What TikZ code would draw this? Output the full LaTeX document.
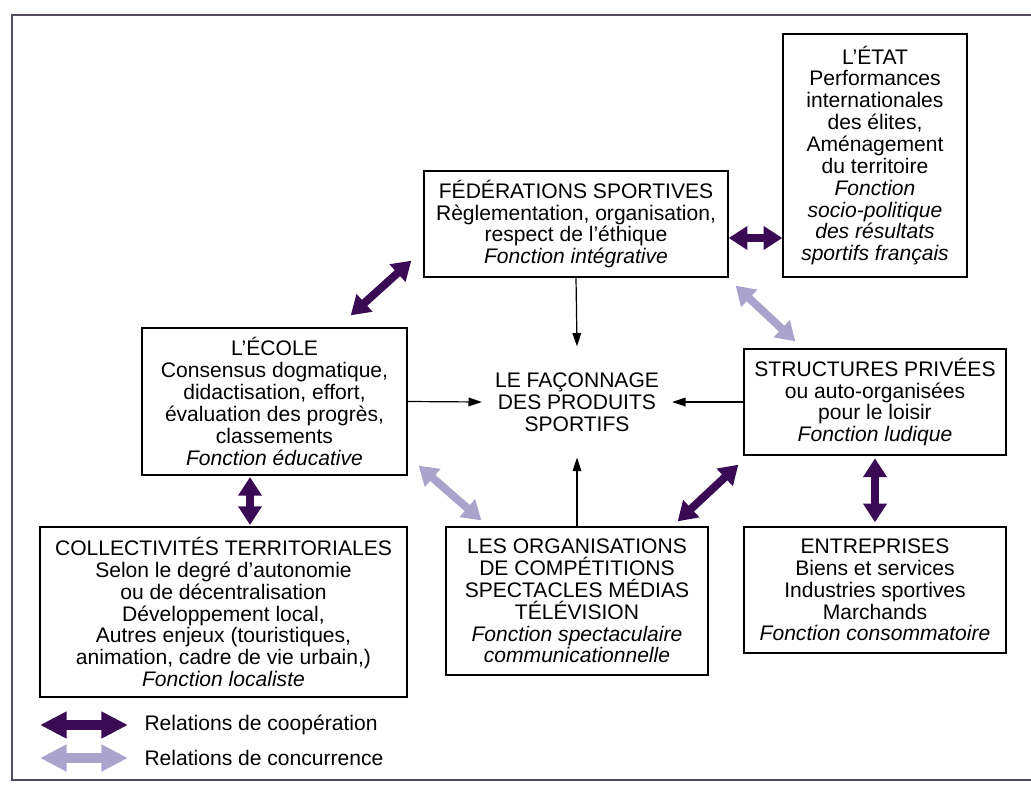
\documentclass[tikz,border=0pt]{standalone}
\usepackage{fontspec}
\setmainfont{Liberation Sans}
\usepackage{tikz}
\usetikzlibrary{arrows.meta,calc}
\tikzset{every picture/.style={line width=0.75pt}}
\definecolor{coop}{RGB}{58,10,85}
\definecolor{conc}{RGB}{170,163,204}
\definecolor{cadre}{RGB}{85,75,95}

\begin{document}
\begin{tikzpicture}[x=0.75pt,y=0.75pt,yscale=-1,xscale=1,
	acteur/.style={draw, line width=1pt, align=center, inner sep=0pt, font=\fontsize{15.8}{16.4}\selectfont},
	flux/.style={-{Triangle[length=10pt,width=6.5pt]}, line width=0.9pt},
	coopere/.style={{Triangle[length=14pt,width=17pt]}-{Triangle[length=14pt,width=17pt]}, color=coop, line width=6pt},
	concurrence/.style={{Triangle[length=14pt,width=17pt]}-{Triangle[length=14pt,width=17pt]}, color=conc, line width=6pt},
	legende/.style={{Triangle[length=20pt,width=19pt]}-{Triangle[length=20pt,width=19pt]}, line width=7pt}]
		\useasboundingbox (0,0) rectangle (1031,785);
		
		%Shape: Frame
		\draw [color=cadre, line width=1.4pt] (1031,15) -- (12,15) -- (12,780) -- (1031,780) ;
		
		%Shape: Rectangle
		\node (etat) [acteur, minimum width=138pt, minimum height=182.25pt] at (875,155.5) {L'ÉTAT\\Performances\\internationales\\des élites,\\Aménagement\\du territoire\\\textit{Fonction}\\\textit{socio-politique}\\\textit{des résultats}\\\textit{sportifs français}};
		%Shape: Rectangle
		\node (fed) [acteur, minimum width=228pt, minimum height=79.5pt] at (576,224) {FÉDÉRATIONS SPORTIVES\\Règlementation, organisation,\\respect de l'éthique\\\textit{Fonction intégrative}};
		%Shape: Rectangle
		\node (ecole) [acteur, minimum width=198.75pt, minimum height=110.25pt] at (274.5,401.5) {L'ÉCOLE\\Consensus dogmatique,\\didactisation, effort,\\évaluation des progrès,\\classements\\\textit{Fonction éducative}};
		%Shape: Rectangle
		\node (struct) [acteur, minimum width=196.5pt, minimum height=79.5pt] at (875,402) {STRUCTURES PRIVÉES\\ou auto-organisées\\pour le loisir\\\textit{Fonction ludique}};
		%Shape: Rectangle
		\node (collect) [acteur, minimum width=275.25pt, minimum height=127.5pt] at (223.5,612) {COLLECTIVITÉS TERRITORIALES\\Selon le degré d'autonomie\\ou de décentralisation\\Développement local,\\Autres enjeux (touristiques,\\animation, cadre de vie urbain,)\\\textit{Fonction localiste}};
		%Shape: Rectangle
		\node (orga) [acteur, minimum width=196.5pt, minimum height=111pt] at (577,601) {LES ORGANISATIONS\\DE COMPÉTITIONS\\SPECTACLES MÉDIAS\\TÉLÉVISION\\\textit{Fonction spectaculaire}\\\textit{communicationnelle}};
		%Shape: Rectangle
		\node (entre) [acteur, minimum width=196.5pt, minimum height=94.5pt] at (875,590) {ENTREPRISES\\Biens et services\\Industries sportives\\Marchands\\\textit{Fonction consommatoire}};
		
		% Text Node
		\node (produits) [acteur, draw=none, minimum width=141.75pt, minimum height=82.5pt] at (577,402) {LE FAÇONNAGE\\DES PRODUITS\\SPORTIFS};
		
		%Straight Lines
		\draw [flux] (fed.south) -- (produits.north) ;
		\draw [flux] (ecole.east) -- (produits.west) ;
		\draw [flux] (struct.west) -- (produits.east) ;
		\draw [flux] (orga.north) -- (produits.south) ;
		
		%Straight Lines
		\coordinate (fe) at ($(fed.east)+(0,14)$);
		\draw [coopere] (fe) -- (fe -| etat.west) ;
		\draw [coopere] ($(fed.south west)+(-12,-17)$) -- ($(ecole.north east)+(-57,-12)$) ;
		\coordinate (ec) at ($(ecole.south)+(-24.5,0)$);
		\draw [coopere, shorten <=1pt, shorten >=1pt] (ec) -- (ec |- collect.north) ;
		\draw [coopere, shorten <=2pt, shorten >=3pt] (struct.south) -- (entre.north) ;
		\draw [coopere] ($(struct.south west)+(-5,9)$) -- ($(orga.north east)+(-31,-5)$) ;
		
		%Straight Lines
		\draw [concurrence] ($(fed.south east)+(7,8)$) -- ($(struct.north west)+(52,-7)$) ;
		\draw [concurrence] ($(ecole.south east)+(11,-10)$) -- ($(orga.north west)+(36,-6)$) ;
		
		% Text Node
		\node (legcoop) [anchor=west, inner sep=0pt, font=\fontsize{15.8}{16.4}\selectfont] at (144,725) {Relations de coopération};
		\draw [legende, color=coop] ($(legcoop.west)+(-104,0)$) -- ($(legcoop.west)+(-16,0)$) ;
		% Text Node
		\node (legconc) [anchor=west, inner sep=0pt, font=\fontsize{15.8}{16.4}\selectfont] at (144,758) {Relations de concurrence};
		\draw [legende, color=conc] ($(legconc.west)+(-104,0)$) -- ($(legconc.west)+(-16,0)$) ;
		
\end{tikzpicture}
\end{document}
